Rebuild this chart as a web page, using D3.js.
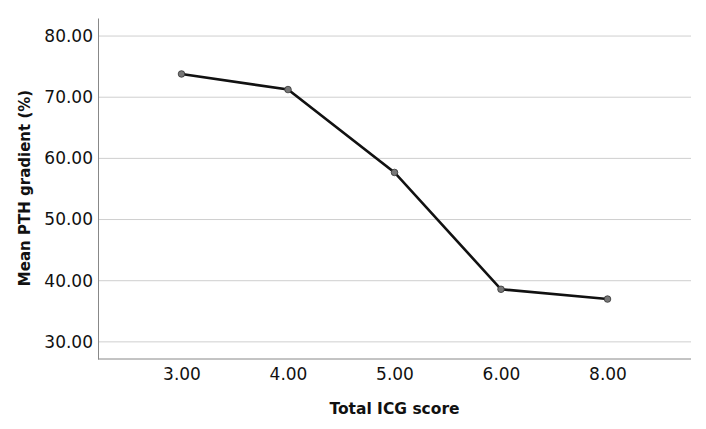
<!DOCTYPE html>
<html><head><meta charset="utf-8">
<script src="https://cdn.jsdelivr.net/npm/d3@7"></script>
<style>body{margin:0;background:#fff;} text{font-family:"DejaVu Sans",sans-serif;}</style>
</head><body><svg id="c" width="706" height="429"></svg>
<script>
const categories = ["3.00","4.00","5.00","6.00","8.00"];
const values = [73.8, 71.25, 57.7, 38.6, 37.0];
const yTicks = [30,40,50,60,70,80];
const xTitle = "Total ICG score";
const yTitle = "Mean PTH gradient (%)";

const svg = d3.select("#c");
const L=98, R=691, T=18, B=359;
const x = d3.scalePoint().domain(categories).range([L,R]).padding(0.784);
const y = d3.scaleLinear().domain([27.2,82.95]).range([B,T]);

// grid
svg.append("g").selectAll("line").data(yTicks).join("line")
  .attr("x1",L).attr("x2",R).attr("y1",d=>y(d)).attr("y2",d=>y(d))
  .attr("stroke","#cfcfcf").attr("stroke-width",1);

// axes
const ya = svg.append("g").attr("transform",`translate(${L},0)`)
  .call(d3.axisLeft(y).tickValues(yTicks).tickFormat(d3.format(".2f")).tickSize(0).tickPadding(5));
ya.select(".domain").attr("stroke","#888");
ya.selectAll("text").attr("font-size",17).attr("fill","#111");
const xa = svg.append("g").attr("transform",`translate(0,${B})`)
  .call(d3.axisBottom(x).tickSize(0).tickPadding(9));
xa.select(".domain").attr("stroke","#888").attr("d",`M${L},0H${R}`);
xa.selectAll("text").attr("font-size",17).attr("fill","#111");

// line
svg.append("path").datum(values)
  .attr("d", d3.line().x((d,i)=>x(categories[i])).y(d=>y(d)))
  .attr("fill","none").attr("stroke","#111").attr("stroke-width",2.6);
svg.append("g").selectAll("circle").data(values).join("circle")
  .attr("cx",(d,i)=>x(categories[i])).attr("cy",d=>y(d)).attr("r",3.3)
  .attr("fill","#777").attr("stroke","#333").attr("stroke-width",0.8);

// titles
svg.append("text").attr("x",(L+R)/2).attr("y",414).attr("text-anchor","middle")
  .attr("font-size",15.5).attr("font-weight","bold").attr("fill","#111").text(xTitle);
svg.append("text").attr("transform","translate(30,188) rotate(-90)").attr("text-anchor","middle")
  .attr("font-size",15).attr("font-weight","bold").attr("fill","#111").text(yTitle);
</script></body></html>
